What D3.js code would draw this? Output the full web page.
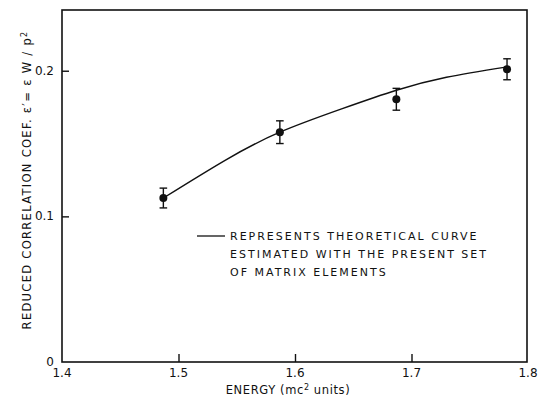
<!DOCTYPE html>
<html>
<head>
<meta charset="utf-8">
<script src="https://cdn.jsdelivr.net/npm/d3@7"></script>
<style>
  body { margin: 0; background: #fff; }
  text { font-family: "DejaVu Sans", sans-serif; fill: #111; }
</style>
</head>
<body>
<svg id="chart" width="543" height="399"></svg>
<script>
// measured points (energy, coef, error)
const energy = [1.487, 1.587, 1.687, 1.782];
const coef = [0.1126, 0.1578, 0.1804, 0.2010];
const errs = [0.0068, 0.0078, 0.0075, 0.0072];

// theoretical curve
const curveX = [1.487, 1.54, 1.587, 1.64, 1.687, 1.73, 1.781];
const curveY = [0.1126, 0.1385, 0.1578, 0.1738, 0.1866, 0.1955, 0.2025];

const xTicks = [1.4, 1.5, 1.6, 1.7, 1.8];
const yTicks = [0, 0.1, 0.2];
const legendLines = ["REPRESENTS THEORETICAL CURVE", "ESTIMATED WITH THE PRESENT SET", "OF MATRIX ELEMENTS"];

const svg = d3.select("#chart");
const mLeft = 62, mTop = 10, mRight = 527, mBottom = 362;

const x = d3.scaleLinear().domain([1.4, 1.8]).range([mLeft, mRight + 1]);
const y = d3.scaleLinear().domain([0, 0.2417]).range([mBottom, mTop]);

// frame
svg.append("rect")
    .attr("x", mLeft).attr("y", mTop)
    .attr("width", mRight - mLeft).attr("height", mBottom - mTop)
    .attr("fill", "none").attr("stroke", "#111").attr("stroke-width", 1.6);

// x axis, ticks pointing inward
const xAxis = svg.append("g")
    .attr("transform", `translate(0,${mBottom})`)
    .call(d3.axisTop(x).tickValues(xTicks).tickSize(8).tickFormat(""));
xAxis.select(".domain").remove();
xAxis.selectAll("line").attr("stroke", "#111").attr("stroke-width", 1.4);
xAxis.selectAll(".tick").filter(d => d === 1.4 || d === 1.8).select("line").remove();

svg.append("g").selectAll("text")
    .data(xTicks)
    .join("text")
    .attr("x", d => x(d))
    .attr("y", mBottom + 15)
    .attr("text-anchor", "middle")
    .attr("font-size", 12)
    .text(d => d3.format(".1f")(d));

// y axis, ticks pointing inward
const yAxis = svg.append("g")
    .attr("transform", `translate(${mLeft},0)`)
    .call(d3.axisRight(y).tickValues(yTicks).tickSize(7).tickFormat(""));
yAxis.select(".domain").remove();
yAxis.selectAll("line").attr("stroke", "#111").attr("stroke-width", 1.4);
yAxis.selectAll(".tick").filter(d => d === 0).select("line").remove();

svg.append("g").selectAll("text")
    .data(yTicks)
    .join("text")
    .attr("x", mLeft - 8)
    .attr("y", d => y(d) + 4)
    .attr("text-anchor", "end")
    .attr("font-size", 12)
    .text(d => d === 0 ? "0" : d3.format(".1f")(d));

// axis titles
svg.append("text")
    .attr("x", 288).attr("y", 394)
    .attr("text-anchor", "middle")
    .attr("font-family", "Liberation Sans, sans-serif")
    .attr("font-size", 11.5)
    .attr("letter-spacing", 0.6)
    .html('ENERGY (mc<tspan dy="-4" font-size="8">2</tspan><tspan dy="4"> units)</tspan>');

svg.append("text")
    .attr("transform", "translate(31,180) rotate(-90)")
    .attr("text-anchor", "middle")
    .attr("font-size", 11.5)
    .attr("letter-spacing", 1.3)
    .html('REDUCED CORRELATION COEF.  \u03b5\u2032= \u03b5 W / p<tspan dy="-4" font-size="8">2</tspan>');

// theoretical curve
const line = d3.line()
    .x(d => x(d[0]))
    .y(d => y(d[1]))
    .curve(d3.curveNatural);
svg.append("path")
    .datum(d3.zip(curveX, curveY))
    .attr("fill", "none")
    .attr("stroke", "#111")
    .attr("stroke-width", 1.4)
    .attr("d", line);

// error bars and points
const pts = svg.append("g").selectAll("g")
    .data(d3.range(energy.length))
    .join("g");
pts.append("line")
    .attr("x1", i => x(energy[i])).attr("x2", i => x(energy[i]))
    .attr("y1", i => y(coef[i] - errs[i])).attr("y2", i => y(coef[i] + errs[i]))
    .attr("stroke", "#111").attr("stroke-width", 1.4);
[-1, 1].forEach(s => {
    pts.append("line")
        .attr("x1", i => x(energy[i]) - 3.8).attr("x2", i => x(energy[i]) + 3.8)
        .attr("y1", i => y(coef[i] + s * errs[i])).attr("y2", i => y(coef[i] + s * errs[i]))
        .attr("stroke", "#111").attr("stroke-width", 1.4);
});
pts.append("circle")
    .attr("cx", i => x(energy[i]))
    .attr("cy", i => y(coef[i]))
    .attr("r", 4)
    .attr("fill", "#111");

// legend
svg.append("line")
    .attr("x1", 197).attr("x2", 225)
    .attr("y1", 236).attr("y2", 236)
    .attr("stroke", "#111").attr("stroke-width", 1.3);
svg.append("g").selectAll("text")
    .data(legendLines)
    .join("text")
    .attr("x", 230)
    .attr("y", (d, i) => 239.5 + i * 18.3)
    .attr("font-size", 11)
    .attr("letter-spacing", 2)
    .text(d => d);
</script>
</body>
</html>
